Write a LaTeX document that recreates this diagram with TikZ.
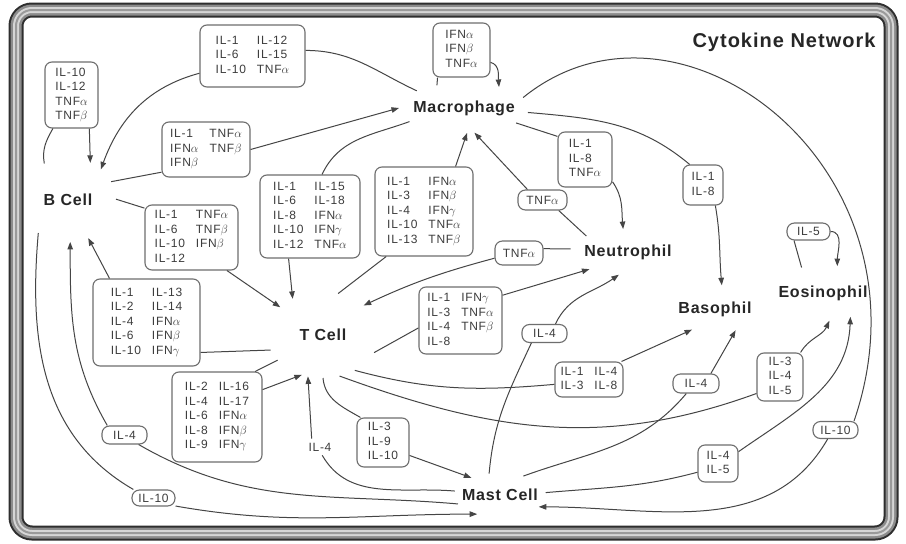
\documentclass[tikz,border=0pt]{standalone}
\usepackage{fontspec}
\setmainfont{Liberation Sans}
\newfontfamily\lblfont{Liberation Sans}[LetterSpace=6]
\newfontfamily\cellfont{Liberation Sans}[LetterSpace=5]
\usetikzlibrary{arrows.meta,shapes.geometric}

\definecolor{frameA}{HTML}{2E2E2E}
\definecolor{frameB}{HTML}{8C8C8C}
\definecolor{frameC}{HTML}{D6D6D6}
\definecolor{frameD}{HTML}{9A9A9A}
\definecolor{celltext}{HTML}{262626}
\definecolor{lbltext}{HTML}{3C3C3C}
\definecolor{boxgray}{HTML}{6E6E6E}
\definecolor{linkgray}{HTML}{454545}

\newcommand{\TNFa}{TNF$\alpha$}
\newcommand{\TNFb}{TNF$\beta$}
\newcommand{\IFNa}{IFN$\alpha$}
\newcommand{\IFNb}{IFN$\beta$}
\newcommand{\IFNg}{IFN$\gamma$}
\newcommand{\onecol}[1]{\begin{tabular}{@{}l@{}}#1\end{tabular}}
\newcommand{\twocol}[1]{\begin{tabular}{@{}l@{\hspace{11pt}}l@{}}#1\end{tabular}}

\tikzset{
	cell/.style={ellipse, inner xsep=-12pt, inner ysep=-2pt, outer sep=0pt, text=celltext,
		font=\cellfont\bfseries\fontsize{16}{19}\selectfont},
	cytbox/.style={draw=boxgray, line width=1.1pt, rounded corners=7pt, inner sep=0pt, fill=white,
		text=lbltext, font=\lblfont\fontsize{12}{14.5}\selectfont},
	pill/.style={cytbox, rounded corners=7.5pt},
	link/.style={draw=linkgray, line width=1pt},
}

\begin{document}
\begin{tikzpicture}[x=1pt, y=1pt, >={Triangle[length=7.5pt,width=5.5pt]}]
		\useasboundingbox (0,0) rectangle (906,-544);
		\fill[white] (0,0) rectangle (906,-544);
		% frame
		\foreach \w/\c in {15/frameA, 11/frameB, 6/frameC, 2/frameD}
			\draw[line width=\w pt, draw=\c, rounded corners=16pt] (16,-10) rectangle (891,-533);
		\node[font=\cellfont\bfseries\fontsize{20}{24}\selectfont, text=celltext] (title) at (784,-42) {Cytokine Network};
		% cells
		\node[cell, minimum width=96pt, minimum height=84pt] (bcell) at (68,-200) {B Cell};
		\node[cell, minimum width=130pt, minimum height=50pt] (mac) at (464,-108) {Macrophage};
		\node[cell, minimum width=116pt, minimum height=46pt] (neut) at (628,-252) {Neutrophil};
		\node[cell, minimum width=112pt, minimum height=86pt] (tcell) at (323,-335) {T Cell};
		\node[cell, minimum width=90pt, minimum height=48pt] (baso) at (715,-309) {Basophil};
		\node[cell, minimum width=104pt, minimum height=56pt] (eos) at (823,-293) {Eosinophil};
		\node[cell, minimum width=92pt, minimum height=44pt] (mast) at (500,-495) {Mast Cell};
		% cytokine boxes
		\node[cytbox, minimum width=53pt, minimum height=66pt] (bAuto) at (71.5,-95) {\onecol{IL-10\\IL-12\\\TNFa\\\TNFb}};
		\node[cytbox, minimum width=105pt, minimum height=62pt] (macB) at (252.5,-56) {\twocol{IL-1 & IL-12\\IL-6 & IL-15\\IL-10 & \TNFa}};
		\node[cytbox, minimum width=88pt, minimum height=55pt] (bMac) at (206,-149.5) {\twocol{IL-1 & \TNFa\\\IFNa & \TNFb\\\IFNb &}};
		\node[cytbox, minimum width=93pt, minimum height=65pt] (bT) at (191.5,-237.5) {\twocol{IL-1 & \TNFa\\IL-6 & \TNFb\\IL-10 & \IFNb\\IL-12 &}};
		\node[cytbox, minimum width=100pt, minimum height=83pt] (macT) at (310,-216.5) {\twocol{IL-1 & IL-15\\IL-6 & IL-18\\IL-8 & \IFNa\\IL-10 & \IFNg\\IL-12 & \TNFa}};
		\node[cytbox, minimum width=98pt, minimum height=89pt] (tMac) at (424,-211.5) {\twocol{IL-1 & \IFNa\\IL-3 & \IFNb\\IL-4 & \IFNg\\IL-10 & \TNFa\\IL-13 & \TNFb}};
		\node[cytbox, minimum width=57pt, minimum height=54pt] (macAuto) at (461.5,-50) {\onecol{\IFNa\\\IFNb\\\TNFa}};
		\node[cytbox, minimum width=54pt, minimum height=55pt] (macNeut) at (585,-159.5) {\onecol{IL-1\\IL-8\\\TNFa}};
		\node[cytbox, minimum width=40pt, minimum height=40pt] (macBaso) at (703,-185) {\onecol{IL-1\\IL-8}};
		\node[cytbox, minimum width=107pt, minimum height=87pt] (tB) at (146.5,-322.5) {\twocol{IL-1 & IL-13\\IL-2 & IL-14\\IL-4 & \IFNa\\IL-6 & \IFNb\\IL-10 & \IFNg}};
		\node[cytbox, minimum width=90pt, minimum height=90pt] (tAuto) at (217,-417) {\twocol{IL-2 & IL-16\\IL-4 & IL-17\\IL-6 & \IFNa\\IL-8 & \IFNb\\IL-9 & \IFNg}};
		\node[cytbox, minimum width=83pt, minimum height=67pt] (tNeut) at (460.5,-320.5) {\twocol{IL-1 & \IFNg\\IL-3 & \TNFa\\IL-4 & \TNFb\\IL-8 &}};
		\node[cytbox, minimum width=68pt, minimum height=35pt] (tBaso) at (589,-379.5) {\twocol{IL-1 & IL-4\\IL-3 & IL-8}};
		\node[cytbox, minimum width=46pt, minimum height=48pt] (tEos) at (780,-377) {\onecol{IL-3\\IL-4\\IL-5}};
		\node[cytbox, minimum width=52pt, minimum height=49pt] (tMast) at (383,-442.5) {\onecol{IL-3\\IL-9\\IL-10}};
		\node[cytbox, minimum width=40pt, minimum height=37pt] (mastEos) at (718,-463.5) {\onecol{IL-4\\IL-5}};
		% single cytokines
		\node[pill, minimum width=49pt, minimum height=20pt] (neutMac) at (542.5,-200) {\TNFa};
		\node[pill, minimum width=48pt, minimum height=24pt] (neutT) at (519,-253) {\TNFa};
		\node[pill, minimum width=45pt, minimum height=18pt] (mastNeut) at (544.5,-333.5) {IL-4};
		\node[pill, minimum width=46pt, minimum height=19pt] (mastBaso) at (696,-383.5) {IL-4};
		\node[pill, minimum width=45pt, minimum height=17pt] (macMast) at (835.5,-430) {IL-10};
		\node[pill, minimum width=43pt, minimum height=17pt] (eosAuto) at (808.5,-231.5) {IL-5};
		\node[pill, minimum width=45pt, minimum height=18pt] (mastB) at (124.5,-435) {IL-4};
		\node[pill, minimum width=43pt, minimum height=16pt] (bMast) at (153.5,-498) {IL-10};
		\node[inner sep=4pt, text=lbltext, font=\lblfont\fontsize{12}{14.5}\selectfont] (mastT) at (320,-447) {IL-4};
		% B cell links
		\draw[link] (bcell.123) to[out=100, in=240] (bAuto.241);
		\draw[link,->] (bAuto.298) -- (bcell.59);
		\draw[link] (mac.160) to[out=155, in=0] (macB.6);
		\draw[link,->] (macB.198) to[out=195, in=70] (bcell.43);
		\draw[link] (bcell.23) -- (bMac.207);
		\draw[link,->] (bMac.east) -- (mac.180);
		\draw[link] (bcell.1) -- (bT.148);
		\draw[link,->] (bT.317) -- (tcell.147);
		\draw[link] (bcell.228) to[out=-95, in=150] (bMast.157);
		\draw[link,->] (bMast.-20) to[out=-10, in=180] (mast.220);
		% macrophage links
		\draw[link] (mac.194) to[out=200, in=65] (macT.74);
		\draw[link,->] (macT.243) -- (tcell.130);
		\draw[link] (mac.140) -- (macAuto.229);
		\draw[link,->] (macAuto.337) to[out=-15, in=95] (mac.31);
		\draw[link] (mac.-16) -- (macNeut.140);
		\draw[link,->] (macNeut.-39) to[out=-55, in=95] (neut.102);
		\draw[link] (mac.-4) to[out=-5, in=140] (macBaso.123);
		\draw[link,->] (macBaso.-59) to[out=-80, in=95] (baso.74);
		\draw[link] (mac.10) .. controls (680,30) and (940,-170) .. (macMast.26);
		\draw[link,->] (macMast.229) to[out=240, in=0] (mast.343);
		% neutrophil links
		\draw[link] (neut.159) -- (neutMac.-33);
		\draw[link,->] (neutMac.145) -- (mac.-67);
		\draw[link] (neut.177) -- (neutT.10);
		\draw[link,->] (neutT.192) to[out=195, in=25] (tcell.36);
		% T cell links
		\draw[link] (tcell.70) -- (tMac.230);
		\draw[link,->] (tMac.55) -- (mac.-83);
		\draw[link] (tcell.341) -- (tNeut.190);
		\draw[link,->] (tNeut.31) -- (neut.204);
		\draw[link] (tcell.312) to[out=-15, in=185] (tBaso.188);
		\draw[link,->] (tBaso.29) -- (baso.222);
		\draw[link] (tcell.292) to[out=-20, in=200] (tEos.215);
		\draw[link,->] (tEos.50) to[out=60, in=245] (eos.283);
		\draw[link] (tcell.196) -- (tB.331);
		\draw[link,->] (tB.130) -- (bcell.-62);
		\draw[link] (tcell.209) -- (tAuto.50);
		\draw[link,->] (tAuto.31) -- (tcell.242);
		\draw[link] (tcell.270) to[out=-85, in=150] (tMast.132);
		\draw[link,->] (tMast.-26) -- (mast.149);
		% mast cell links
		\draw[link] (mast.117) to[out=85, in=245] (mastNeut.216);
		\draw[link,->] (mastNeut.41) to[out=65, in=215] (neut.248);
		\draw[link] (mast.39) to[out=20, in=230] (mastBaso.226);
		\draw[link,->] (mastBaso.34) -- (baso.314);
		\draw[link] (mast.3) to[out=5, in=195] (mastEos.203);
		\draw[link,->] (mastEos.30) to[out=35, in=268] (eos.319);
		\draw[link] (mast.175) to[out=175, in=-60] (mastT.-75);
		\draw[link,->] (mastT.135) -- (tcell.250);
		\draw[link] (mast.192) to[out=175, in=-30] (mastB.-34);
		\draw[link,->] (mastB.151) to[out=120, in=-90] (bcell.-87);
		% eosinophil loop
		\draw[link] (eos.130) -- (eosAuto.212);
		\draw[link,->] (eosAuto.east) to[out=0, in=90] (eos.62);
	\end{tikzpicture}
\end{document}
